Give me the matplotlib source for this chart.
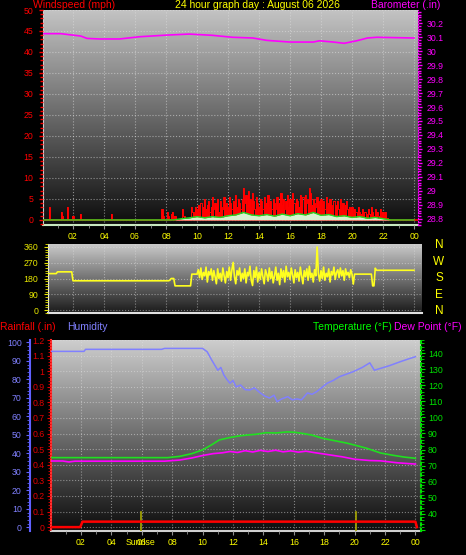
import numpy as np
import matplotlib
matplotlib.use('Agg')
import matplotlib.pyplot as plt
from matplotlib.colors import LinearSegmentedColormap
from matplotlib.ticker import MultipleLocator

plt.rcParams['font.family'] = ['Liberation Sans', 'DejaVu Sans']

# ---------------- data ----------------
hour_ticks = [2, 4, 6, 8, 10, 12, 14, 16, 18, 20, 22, 24]
hour_labels = ['02', '04', '06', '08', '10', '12', '14', '16', '18', '20', '22', '00']

# wind gust (mph), 5-minute samples, one row per hour
gust_rows = [
    [0, 0, 0, 0, 0, 0, 3, 0, 0, 0, 0, 0],
    [0, 0, 0, 2, 1, 0, 0, 0, 3, 0, 0, 0],
    [1, 0, 0, 0, 0, 0, 1.5, 0, 0, 0, 0, 0],
    [0, 0, 0, 0, 0, 0, 0, 0, 0, 0, 0, 0],
    [0, 0, 0, 0, 0, 0, 1.5, 0, 0, 0, 0, 0],
    [0, 0, 0, 0, 0, 0, 0, 0, 0, 0, 0, 0],
    [0, 0, 0, 0, 0, 0, 0, 0, 0, 0, 0, 0],
    [0, 0, 0, 0, 0, 0, 0, 0, 0, 2.5, 1, 0],
    [0, 2, 1, 0, 1.5, 2, 0, 1, 0, 0, 0, 0],
    [0, 2.5, 1, 0, 0, 0, 0, 0, 3, 2, 1.5, 3],
    [2.5, 3.5, 2, 4, 1.5, 3, 5, 2.5, 3.5, 4.5, 2, 3],
    [5.5, 2.5, 4, 3, 5, 2, 4.5, 3, 2.5, 5.5, 3.5, 4],
    [3, 5.5, 4, 2.5, 4.5, 3.5, 6, 3, 5, 4, 2.5, 5],
    [7.5, 4, 6, 3.5, 7, 5, 3, 6.5, 4.5, 2.5, 5.5, 4],
    [3, 5, 4.5, 2.5, 5.5, 3.5, 4, 6, 3, 4.5, 2.5, 5],
    [4, 2.5, 5.5, 3, 4, 6.5, 3.5, 5, 2.5, 4.5, 6, 3],
    [5, 3.5, 6.5, 4, 2.5, 5, 4.5, 3, 6, 3.5, 5.5, 4],
    [6, 4, 5, 7.5, 6.5, 3.5, 5, 4, 3, 5.5, 4.5, 3],
    [5, 3.5, 4.5, 2.5, 5.5, 3, 4, 5, 3.5, 2.5, 4.5, 3.5],
    [3, 4.5, 2.5, 5, 3, 4, 2, 3.5, 4.5, 2.5, 3, 2],
    [3, 1.5, 2.5, 2, 1, 3, 2, 1.5, 2.5, 1, 2, 1.5],
    [1, 2.5, 1.5, 3, 2, 1, 2.5, 1.5, 2, 1, 2.5, 1],
    [2, 1, 2, 0.5, 0, 0, 0, 0, 0, 0, 0, 0],
    [0, 0, 0, 0, 0, 0, 0, 0, 0, 0, 0, 0],
]
gust = [v for row in gust_rows for v in row] + [0]

# average wind speed (mph), 30-minute samples 0..24 h
avg_wind = [0, 0, 0, 0, 0, 0, 0, 0, 0, 0, 0, 0, 0, 0, 0, 0, 0, 0,
            0.3, 0.5, 0.8, 0.5, 0.8, 0.6, 1.0, 1.2, 1.8, 1.2, 1.0, 1.3,
            0.9, 1.4, 1.0, 1.5, 1.2, 1.8, 1.1, 1.3, 0.8, 1.0, 0.6, 0.8,
            0.4, 0.6, 0.3, 0, 0, 0, 0]

# barometer (in)
baro_t = [0, 1.2, 1.8, 2.5, 2.9, 3.7, 5.0, 6.3, 8.1, 9.5, 11.0, 12.3, 13.6,
          14.5, 16.0, 17.5, 17.9, 18.8, 19.5, 20.3, 21.0, 21.6, 24.0]
baro_v = [30.124, 30.124, 30.116, 30.107, 30.090, 30.086, 30.086, 30.102,
          30.114, 30.121, 30.112, 30.098, 30.093, 30.076, 30.064, 30.064,
          30.073, 30.064, 30.055, 30.073, 30.093, 30.098, 30.093]

# wind direction (deg), 5-minute samples
dir_night = [208] * 12 + [218] * 12 + [167] * 72
dir_morning = [167, 167, 167, 170, 180, 180, 180] + [138] * 13 + [205] * 4
dir_noisy = [
    205, 230, 185, 240, 175, 215, 195, 245, 160, 220, 200, 235,
    170, 225, 190, 150, 235, 180, 210, 165, 240, 195, 155, 220,
    185, 245, 170, 230, 272, 190, 150, 225, 200, 240, 165, 210,
    180, 235, 155, 215, 195, 250, 170, 140, 225, 185, 245, 160,
    215, 175, 235, 190, 150, 230, 205, 165, 240, 180, 220, 155,
    195, 245, 170, 210, 145, 235, 185, 225, 160, 250, 190, 215,
    175, 240, 200, 155, 230, 185, 215, 165, 245, 195, 150, 225,
    190, 235, 170, 250, 185, 210, 160, 230, 195, 360, 205, 165,
    225, 180, 245, 170, 210, 190, 235, 160, 220, 200, 245, 175,
    215, 230, 185, 240, 195, 225, 170, 235, 200, 215, 185, 230,
]
dir_evening = [205, 148] + [205] * 14 + [138, 138] + [239] + [227] * 30
wind_dir = dir_night + dir_morning + dir_noisy + dir_evening

# humidity (%)
hum_t = [0, 2.2, 2.3, 7.3, 7.5, 10.0, 10.3, 10.6, 11.0, 11.2, 11.4, 11.6,
         11.8, 12.0, 12.2, 12.5, 12.8, 13.1, 13.4, 13.8, 14.1, 14.4, 14.7,
         14.9, 15.2, 15.6, 15.9, 16.2, 16.5, 16.9, 17.2, 17.5, 17.9, 18.2,
         18.6, 19.0, 19.5, 19.9, 20.5, 21.0, 21.3, 21.7, 22.3, 23.0, 23.5, 24.0]
hum_v = [95.2, 95.2, 96.3, 96.3, 96.8, 96.8, 95.0, 90.5, 85.0, 86.5, 82.4,
         80.0, 78.0, 79.5, 76.0, 77.0, 74.5, 74.3, 75.5, 72.7, 71.0, 70.0,
         71.5, 68.0, 69.5, 70.7, 69.0, 69.5, 69.0, 72.7, 72.0, 73.4, 76.0,
         78.0, 79.5, 81.5, 83.0, 84.2, 86.5, 89.0, 85.0, 86.0, 87.5, 89.6,
         91.0, 92.3]

# temperature (F)
temp_t = [0, 7.7, 8.5, 9.3, 10.0, 10.6, 11.1, 11.8, 12.4, 12.9, 13.5, 14.2,
          14.8, 15.6, 16.1, 16.6, 17.2, 17.9, 18.7, 19.5, 20.2, 20.8, 21.7,
          22.5, 23.3, 24.0]
temp_v = [75, 75, 75.8, 77.5, 79.8, 83, 86, 87.5, 88.5, 89, 89.5, 90.5,
          90.3, 91, 90.7, 90, 89, 87, 85.5, 84, 82.3, 80.8, 77.9, 76.5,
          75.3, 74.6]

# dew point (F)
dew_t = [0, 0.8, 1.2, 1.6, 7.5, 8.5, 9.3, 10.0, 10.7, 11.3, 11.8, 12.3,
         12.8, 13.3, 13.8, 14.3, 14.8, 15.3, 15.8, 16.3, 16.8, 17.3, 17.8,
         18.5, 19.2, 20.0, 21.0, 21.7, 22.8, 24.0]
dew_v = [72.9, 72.9, 72.3, 72.8, 72.8, 73.5, 74.8, 76.3, 77.5, 78, 78.8,
         78.2, 79.3, 78.5, 79.5, 78.8, 79.6, 78.6, 79.2, 78.4, 79.0, 78.2,
         77.5, 76.5, 75.5, 74.0, 73.2, 73.0, 71.8, 71.0]

# rainfall (in)
rain_t = [0, 1.95, 2.1, 24.0, 24.1]
rain_v = [0, 0, 0.035, 0.035, 0]

sunrise_h = 5.95
sunset_h = 20.1

# ---------------- figure ----------------
W, H = 466, 555
fig = plt.figure(figsize=(W / 100, H / 100), dpi=100, facecolor='black')


def box(x0, y0, x1, y1):
    return [x0 / W, 1 - y1 / H, (x1 - x0) / W, (y1 - y0) / H]


def gradient(ax, top, bottom):
    cmap = LinearSegmentedColormap.from_list('g', [bottom, top])
    ax.imshow(np.linspace(0, 1, 256)[:, None], extent=[0, 1, 0, 1],
              transform=ax.transAxes, cmap=cmap, aspect='auto',
              origin='lower', zorder=0, interpolation='bilinear')


TS = 6.3  # tick label size
YEL = '#ffff00'
RED = '#ff0000'
MAG = '#ff00ff'
GRN = '#00ff00'
HUM = '#8080ff'

t5 = np.arange(len(gust)) / 12.0
t30 = np.arange(len(avg_wind)) / 2.0

# ---------- top panel: wind speed / barometer ----------
ax1 = fig.add_axes(box(43, 10, 418, 225))
ax1.set_facecolor('black')
gradient(ax1, '#c4c4c4', '#0c0c0c')
ax1.bar(t5, gust, width=0.07, color=RED, linewidth=0, zorder=3)
ax1.plot(t5, gust, drawstyle='steps-mid', color=RED, lw=0.7, zorder=3)
ax1.axhline(0, color=RED, lw=1.2, zorder=3)
ax1.fill_between(t30, avg_wind, color='#d8f2d0', lw=0, zorder=4)
ax1.plot(t30, avg_wind, color='#22dd22', lw=1.0, zorder=5)
ax1.set_xlim((43 - 42) / 15.5, (418 - 42) / 15.5)
ax1.set_ylim(-1.2, 50)
ax1.yaxis.set_major_locator(MultipleLocator(5))
ax1.yaxis.set_minor_locator(MultipleLocator(1))
ax1.set_xticks(hour_ticks)
ax1.set_xticklabels(hour_labels)
ax1.xaxis.set_minor_locator(MultipleLocator(1))
ax1.tick_params(axis='y', which='both', colors=RED, labelsize=TS, length=3, width=1, pad=4)
ax1.tick_params(axis='y', which='minor', length=2)
ax1.tick_params(axis='x', which='both', colors='#909090', labelcolor=YEL, labelsize=TS, length=3, pad=2)
ax1.tick_params(axis='x', which='minor', length=2)
ax1.grid(True, which='major', color='#e0e0e0', linestyle=':', linewidth=0.8, alpha=0.55, zorder=1)
ax1.set_axisbelow(False)
ax1.spines['top'].set_visible(False)
ax1.spines['left'].set_color('#d0d0d0')
ax1.spines['bottom'].set_color('#c8e8c0')
ax1.spines['bottom'].set_linewidth(1.5)
ax1.spines['right'].set_visible(False)

ax1b = ax1.twinx()
ax1b.plot(baro_t, baro_v, color=MAG, lw=1.2, zorder=5)
ax1b.set_ylim(28.757, 30.293)
ax1b.yaxis.set_major_locator(MultipleLocator(0.1))
ax1b.yaxis.set_minor_locator(MultipleLocator(0.02))
ax1b.yaxis.set_major_formatter(matplotlib.ticker.FuncFormatter(
    lambda v, p: ('%.1f' % v).rstrip('0').rstrip('.')))
ax1b.tick_params(axis='y', which='both', colors=MAG, labelsize=TS, length=3, width=1, pad=3)
ax1b.tick_params(axis='y', which='minor', length=2)
for s in ['top', 'left', 'bottom']:
    ax1b.spines[s].set_visible(False)
ax1b.spines['right'].set_color(MAG)
ax1b.spines['right'].set_linestyle(':')

fig.text(33 / W, 1 - 4.5 / H, 'Windspeed (mph)', color=RED, fontsize=7.5, ha='left', va='center')
fig.text(257 / W, 1 - 4.5 / H, '24 hour graph day : August 06 2026', color=YEL, fontsize=7.5, ha='center', va='center')
fig.text(440 / W, 1 - 4.5 / H, 'Barometer (.in)', color=MAG, fontsize=7.5, ha='right', va='center')

# ---------- middle panel: wind direction ----------
ax2 = fig.add_axes(box(48, 244, 422, 313))
ax2.set_facecolor('black')
gradient(ax2, '#cacaca', '#1a1a1a')
ax2.plot(t5, wind_dir, color='#ffff20', lw=1.2, zorder=4)
ax2.set_xlim((48 - 42) / 15.5, (422 - 42) / 15.5)
ax2.set_ylim(-17, 377)
ax2.set_yticks([0, 90, 180, 270, 360])
ax2.yaxis.set_minor_locator(MultipleLocator(15))
ax2.set_xticks(hour_ticks)
ax2.tick_params(axis='x', which='both', length=0, labelbottom=False)
ax2.tick_params(axis='y', which='both', colors='#e8e800', labelsize=TS, length=3, pad=4)
ax2.tick_params(axis='y', which='minor', length=2)
ax2.grid(True, which='major', color='#e0e0e0', linestyle=':', linewidth=0.8, alpha=0.5, zorder=1)
ax2.set_axisbelow(False)
for s in ['top', 'right']:
    ax2.spines[s].set_visible(False)
ax2.spines['left'].set_color('#e8e8e8')
ax2.spines['bottom'].set_color('#e0e0e0')
ax2.spines['bottom'].set_linewidth(1.5)
for lab, yy in zip(['N', 'W', 'S', 'E', 'N'], [245, 261.5, 278, 295, 311]):
    fig.text(439 / W, 1 - yy / H, lab, color=YEL, fontsize=8.5, ha='center', va='center')

# ---------- bottom panel: rain / humidity / temperature / dew point ----------
ax3 = fig.add_axes(box(51, 340, 421, 531))
ax3.set_facecolor('black')
gradient(ax3, '#cecece', '#0c0c0c')
ax3.set_xlim((51 - 50.6) / 15.2, (421 - 50.6) / 15.2)
ax3.set_ylim(-0.025, 1.2)
ax3.yaxis.set_major_locator(MultipleLocator(0.1))
ax3.yaxis.set_minor_locator(MultipleLocator(0.02))
ax3.yaxis.set_major_formatter(matplotlib.ticker.FuncFormatter(
    lambda v, p: ('%.1f' % v).rstrip('0').rstrip('.') if v > -0.001 else ''))
ax3.set_xticks(hour_ticks)
ax3.set_xticklabels(hour_labels)
ax3.xaxis.set_minor_locator(MultipleLocator(1))
ax3.tick_params(axis='y', which='both', colors='#e00000', labelsize=TS, length=3, pad=1.5)
ax3.tick_params(axis='y', which='minor', length=2)
ax3.tick_params(axis='x', which='both', colors='#909090', labelcolor=YEL, labelsize=TS, length=3, pad=2)
ax3.tick_params(axis='x', which='minor', length=2)
ax3.grid(True, which='major', color='#e0e0e0', linestyle=':', linewidth=0.8, alpha=0.5, zorder=1)
ax3.set_axisbelow(False)
ax3.spines['top'].set_visible(False)
ax3.spines['right'].set_visible(False)
ax3.spines['left'].set_color('#ff3030')
ax3.spines['left'].set_linestyle((0, (2, 1)))
ax3.spines['left'].set_linewidth(1.5)
ax3.spines['bottom'].set_color('#d0d0d0')
ax3.spines['bottom'].set_linewidth(1.5)
ax3.plot(rain_t, rain_v, color=RED, lw=1.8, zorder=6)
for h_ in (sunrise_h, sunset_h):
    ax3.axvline(h_, ymin=0, ymax=0.1, color='#a8a800', lw=1.2, zorder=5)

ax3h = ax3.twinx()
ax3h.yaxis.set_label_position('left')
ax3h.yaxis.tick_left()
ax3h.spines['left'].set_position(('outward', 21 * 0.72))
ax3h.spines['left'].set_visible(True)
ax3h.spines['left'].set_color('#6060ff')
ax3h.spines['left'].set_linewidth(1.5)
for s in ['top', 'right', 'bottom']:
    ax3h.spines[s].set_visible(False)
ax3h.set_ylim(-1.9, 101.35)
ax3h.yaxis.set_major_locator(MultipleLocator(10))
ax3h.yaxis.set_minor_locator(MultipleLocator(2))
ax3h.tick_params(axis='y', which='both', colors='#6060ff', labelcolor=HUM, labelsize=TS, length=3, pad=3)
ax3h.tick_params(axis='y', which='minor', length=2)
ax3h.plot(hum_t, hum_v, color=HUM, lw=1.1, zorder=5)

ax3t = ax3.twinx()
ax3t.set_ylim(29.4, 148.1)
ax3t.yaxis.set_major_locator(MultipleLocator(10))
ax3t.yaxis.set_minor_locator(MultipleLocator(2))
ax3t.yaxis.set_major_formatter(matplotlib.ticker.FuncFormatter(
    lambda v, p: '%d' % v if 35 < v < 145 else ''))
ax3t.tick_params(axis='y', which='both', colors='#00e000', labelsize=TS, length=3, pad=2)
ax3t.tick_params(axis='y', which='minor', length=2)
for s in ['top', 'left', 'bottom']:
    ax3t.spines[s].set_visible(False)
ax3t.spines['right'].set_color('#00e000')
ax3t.spines['right'].set_linestyle(':')
ax3t.spines['right'].set_linewidth(1.5)
ax3t.plot(dew_t, dew_v, color=MAG, lw=1.2, zorder=5)
ax3t.plot(temp_t, temp_v, color='#20e020', lw=1.2, zorder=6)

fig.text(0 / W, 1 - 326.5 / H, 'Rainfall (.in)', color=RED, fontsize=7.5, ha='left', va='center')
fig.text(67 / W, 1 - 326.5 / H, 'Humidity', color=HUM, fontsize=7.5, ha='left', va='center')
fig.text(392 / W, 1 - 326.5 / H, 'Temperature (°F)', color=GRN, fontsize=7.5, ha='right', va='center')
fig.text(394 / W, 1 - 326.5 / H, 'Dew Point (°F)', color=MAG, fontsize=7.5, ha='left', va='center')
fig.text(141 / W, 1 - 542.5 / H, 'Sunrise', color=YEL, fontsize=TS, ha='center', va='center')

fig.savefig('out.png', dpi=100, facecolor='black')
